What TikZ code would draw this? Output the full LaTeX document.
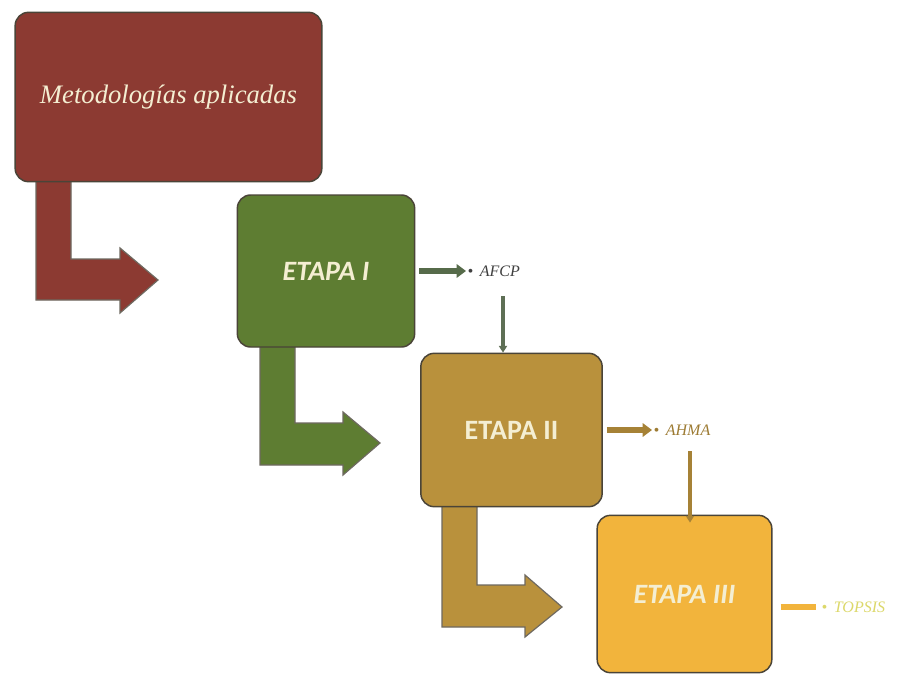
\documentclass[tikz,border=0pt]{standalone}
\usepackage{fontspec}
\setmainfont{Liberation Serif}
\newfontfamily\boxfont{Carlito}
\usetikzlibrary{arrows.meta}
\definecolor{cmaroon}{HTML}{8C3A32}
\definecolor{cgreen}{HTML}{5E7D32}
\definecolor{cgold}{HTML}{B9913C}
\definecolor{cyellow}{HTML}{F2B43C}
\definecolor{ccream}{HTML}{F4EED2}
\definecolor{cedge}{HTML}{4A4438}
\definecolor{cdkgreen}{HTML}{566B4A}
\definecolor{cpale}{HTML}{DCD86A}
\tikzset{
  stagebox/.style={draw=cedge, line width=1.1pt, rounded corners=10pt, inner sep=0pt, text=ccream},
  elbow/.style={draw=cedge!80, line width=0.9pt, line join=miter},
  smallarrow/.style={line width=#1, -{Triangle[length=7pt,width=10pt]}},
  lbl/.style={font=\itshape\fontsize{12}{14}\selectfont, inner sep=1pt, anchor=west}
}
\begin{document}
\begin{tikzpicture}[x=0.75pt,y=-0.75pt]
\useasboundingbox (0,0) rectangle (904,675);
\fill[white] (0,0) rectangle (904,675);
% elbow arrows (drawn first so boxes cover their tops)
\filldraw[elbow, fill=cmaroon] (36,176) -- (71,176) -- (71,259) -- (120,259) -- (120,248) -- (158,280) -- (120,313) -- (120,300) -- (36,300) -- cycle;
\filldraw[elbow, fill=cgreen] (260,340) -- (295,340) -- (295,423) -- (343,423) -- (343,412) -- (380,443) -- (343,475) -- (343,465) -- (260,465) -- cycle;
\filldraw[elbow, fill=cgold] (442,500) -- (477,500) -- (477,585) -- (525,585) -- (525,575) -- (562,607) -- (525,637) -- (525,627) -- (442,627) -- cycle;
% boxes
\node[stagebox, fill=cmaroon, minimum width=230pt, minimum height=127pt] (m) at (168.5,97)
  {\fontsize{20}{24}\selectfont\itshape Metodologías aplicadas};
\node[stagebox, fill=cgreen, minimum width=133pt, minimum height=114pt] (e1) at (326,271)
  {\boxfont\bfseries\itshape\fontsize{21}{24}\selectfont ETAPA I};
\node[stagebox, fill=cgold, minimum width=136pt, minimum height=115pt] (e2) at (511.5,430)
  {\boxfont\bfseries\fontsize{21}{24}\selectfont ETAPA II};
\node[stagebox, fill=cyellow, minimum width=131pt, minimum height=118pt] (e3) at (684.5,594)
  {\boxfont\bfseries\itshape\fontsize{21}{24}\selectfont ETAPA III};
% side labels
\node[lbl, text=black!75] (l1) at (466,271) {\textbullet\hspace{5pt}AFCP};
\node[lbl, text=cgold!85!black] (l2) at (652,430) {\textbullet\hspace{5pt}AHMA};
\node[lbl, text=cpale] (l3) at (820,607) {\textbullet\hspace{5pt}TOPSIS};
% small arrows
\draw[smallarrow=5pt, draw=cdkgreen, fill=cdkgreen] ([xshift=3pt]e1.east) -- (l1.west);
\draw[draw=cdkgreen!80!gray, line width=3pt, -{Triangle[length=5pt,width=6pt]}] (503,296) coordinate (a1) -- (a1 |- e2.north);
\draw[smallarrow=5pt, draw=cgold!90!black, fill=cgold] ([xshift=3pt]e2.east) -- (l2.west);
\draw[draw=cgold!90!black, line width=3pt, -{Triangle[length=5pt,width=6pt]}] (690,451) coordinate (a2) -- ([yshift=-6pt]a2 |- e3.north);
\draw[line width=5pt, draw=cyellow] ([xshift=6pt]l3.west -| e3.east) -- ([xshift=-3pt]l3.west);
\end{tikzpicture}
\end{document}
